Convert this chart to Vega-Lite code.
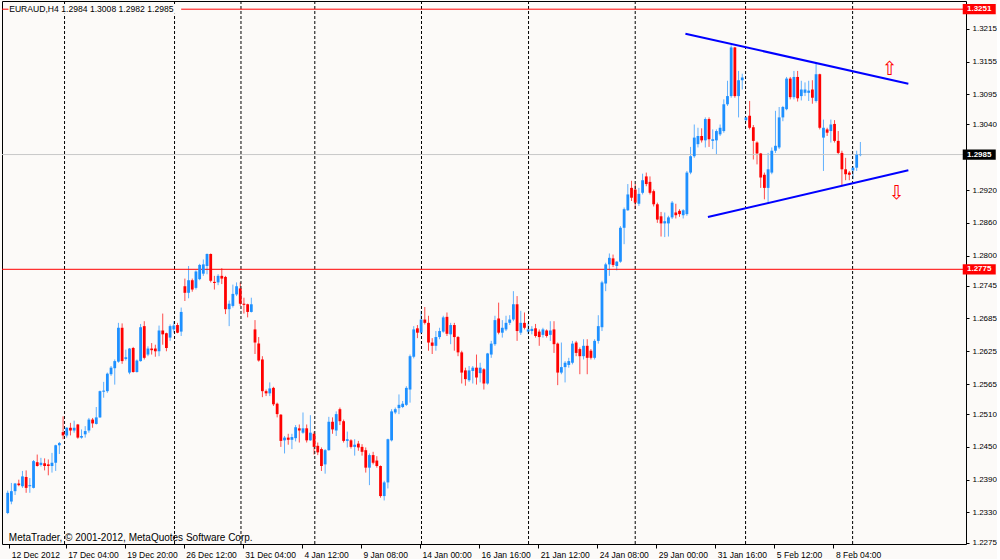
{
"$schema": "https://vega.github.io/schema/vega-lite/v6.json",
"width": 964,
"height": 543,
"padding": {"left": 1, "top": 0, "right": 0, "bottom": 0},
"background": "#FCFAF8",
"config": {
"view": {"stroke": "#000000", "strokeWidth": 1, "fill": "#FCFAF8"},
"font": "Liberation Sans",
"axis": {"grid": false, "domain": false, "tickColor": "#000000", "labelColor": "#000000", "labelFont": "Liberation Sans", "labelOverlap": false, "labelFlush": false, "labelBound": false},
"axisX": {"tickSize": 4, "labelPadding": 2, "labelFontSize": 8.5, "labelAlign": "left", "labelOffset": 2, "labelOverlap": false},
"axisY": {"tickSize": 3, "labelPadding": 3, "labelFontSize": 8, "labelOverlap": false}
},
"resolve": {"axis": {"x": "independent", "y": "independent"}},
"datasets": {
"bars": [
{"i":0,"o":1.2329,"h":1.2370,"l":1.2327,"c":1.2366},
{"i":1,"o":1.2350,"h":1.2384,"l":1.2345,"c":1.2369},
{"i":2,"o":1.2369,"h":1.2384,"l":1.2362,"c":1.2383},
{"i":3,"o":1.2383,"h":1.2390,"l":1.2378,"c":1.2380},
{"i":4,"o":1.2378,"h":1.2406,"l":1.2375,"c":1.2396},
{"i":5,"o":1.2395,"h":1.2407,"l":1.2366,"c":1.2375},
{"i":6,"o":1.2378,"h":1.2393,"l":1.2366,"c":1.2380},
{"i":7,"o":1.2375,"h":1.2426,"l":1.2374,"c":1.2424},
{"i":8,"o":1.2422,"h":1.2436,"l":1.2414,"c":1.2415},
{"i":9,"o":1.2417,"h":1.2430,"l":1.2414,"c":1.2421},
{"i":10,"o":1.2420,"h":1.2429,"l":1.2407,"c":1.2415},
{"i":11,"o":1.2418,"h":1.2427,"l":1.2398,"c":1.2415},
{"i":12,"o":1.2415,"h":1.2439,"l":1.2403,"c":1.2421},
{"i":13,"o":1.2421,"h":1.2454,"l":1.2406,"c":1.2453},
{"i":14,"o":1.2453,"h":1.2459,"l":1.2437,"c":1.2457},
{"i":15,"o":1.2477,"h":1.2506,"l":1.2464,"c":1.2471},
{"i":16,"o":1.2471,"h":1.2486,"l":1.2467,"c":1.2485},
{"i":17,"o":1.2485,"h":1.2494,"l":1.2471,"c":1.2480},
{"i":18,"o":1.2480,"h":1.2498,"l":1.2476,"c":1.2485},
{"i":19,"o":1.2491,"h":1.2492,"l":1.2465,"c":1.2467},
{"i":20,"o":1.2467,"h":1.2482,"l":1.2465,"c":1.2470},
{"i":21,"o":1.2473,"h":1.2488,"l":1.2467,"c":1.2479},
{"i":22,"o":1.2480,"h":1.2503,"l":1.2476,"c":1.2500},
{"i":23,"o":1.2500,"h":1.2503,"l":1.2485,"c":1.2493},
{"i":24,"o":1.2492,"h":1.2523,"l":1.2491,"c":1.2504},
{"i":25,"o":1.2504,"h":1.2553,"l":1.2503,"c":1.2552},
{"i":26,"o":1.2551,"h":1.2569,"l":1.2540,"c":1.2553},
{"i":27,"o":1.2552,"h":1.2586,"l":1.2549,"c":1.2584},
{"i":28,"o":1.2583,"h":1.2598,"l":1.2580,"c":1.2595},
{"i":29,"o":1.2594,"h":1.2610,"l":1.2564,"c":1.2607},
{"i":30,"o":1.2606,"h":1.2677,"l":1.2604,"c":1.2668},
{"i":31,"o":1.2668,"h":1.2676,"l":1.2602,"c":1.2607},
{"i":32,"o":1.2611,"h":1.2628,"l":1.2608,"c":1.2614},
{"i":33,"o":1.2586,"h":1.2631,"l":1.2583,"c":1.2630},
{"i":34,"o":1.2631,"h":1.2633,"l":1.2586,"c":1.2587},
{"i":35,"o":1.2587,"h":1.2610,"l":1.2586,"c":1.2608},
{"i":36,"o":1.2607,"h":1.2675,"l":1.2606,"c":1.2669},
{"i":37,"o":1.2671,"h":1.2680,"l":1.2610,"c":1.2613},
{"i":38,"o":1.2619,"h":1.2634,"l":1.2616,"c":1.2630},
{"i":39,"o":1.2630,"h":1.2640,"l":1.2619,"c":1.2627},
{"i":40,"o":1.2630,"h":1.2637,"l":1.2615,"c":1.2625},
{"i":41,"o":1.2625,"h":1.2672,"l":1.2616,"c":1.2663},
{"i":42,"o":1.2663,"h":1.2694,"l":1.2637,"c":1.2656},
{"i":43,"o":1.2658,"h":1.2659,"l":1.2625,"c":1.2631},
{"i":44,"o":1.2650,"h":1.2674,"l":1.2644,"c":1.2671},
{"i":45,"o":1.2665,"h":1.2680,"l":1.2659,"c":1.2672},
{"i":46,"o":1.2673,"h":1.2677,"l":1.2658,"c":1.2659},
{"i":47,"o":1.2661,"h":1.2705,"l":1.2653,"c":1.2697},
{"i":48,"o":1.2744,"h":1.2758,"l":1.2717,"c":1.2732},
{"i":49,"o":1.2732,"h":1.2781,"l":1.2722,"c":1.2755},
{"i":50,"o":1.2755,"h":1.2758,"l":1.2734,"c":1.2738},
{"i":51,"o":1.2741,"h":1.2773,"l":1.2738,"c":1.2771},
{"i":52,"o":1.2757,"h":1.2785,"l":1.2755,"c":1.2783},
{"i":53,"o":1.2767,"h":1.2793,"l":1.2763,"c":1.2784},
{"i":54,"o":1.2781,"h":1.2804,"l":1.2766,"c":1.2803},
{"i":55,"o":1.2803,"h":1.2804,"l":1.2751,"c":1.2754},
{"i":56,"o":1.2752,"h":1.2763,"l":1.2738,"c":1.2750},
{"i":57,"o":1.2751,"h":1.2766,"l":1.2746,"c":1.2763},
{"i":58,"o":1.2763,"h":1.2777,"l":1.2748,"c":1.2758},
{"i":59,"o":1.2761,"h":1.2763,"l":1.2693,"c":1.2702},
{"i":60,"o":1.2702,"h":1.2718,"l":1.2671,"c":1.2712},
{"i":61,"o":1.2708,"h":1.2747,"l":1.2705,"c":1.2730},
{"i":62,"o":1.2729,"h":1.2751,"l":1.2726,"c":1.2744},
{"i":63,"o":1.2740,"h":1.2751,"l":1.2708,"c":1.2712},
{"i":64,"o":1.2712,"h":1.2723,"l":1.2694,"c":1.2710},
{"i":65,"o":1.2711,"h":1.2712,"l":1.2687,"c":1.2697},
{"i":66,"o":1.2697,"h":1.2723,"l":1.2696,"c":1.2711},
{"i":67,"o":1.2665,"h":1.2682,"l":1.2620,"c":1.2641},
{"i":68,"o":1.2639,"h":1.2651,"l":1.2606,"c":1.2608},
{"i":69,"o":1.2610,"h":1.2616,"l":1.2541,"c":1.2552},
{"i":70,"o":1.2552,"h":1.2555,"l":1.2543,"c":1.2548},
{"i":71,"o":1.2548,"h":1.2568,"l":1.2543,"c":1.2557},
{"i":72,"o":1.2558,"h":1.2560,"l":1.2525,"c":1.2528},
{"i":73,"o":1.2529,"h":1.2531,"l":1.2504,"c":1.2510},
{"i":74,"o":1.2509,"h":1.2510,"l":1.2450,"c":1.2461},
{"i":75,"o":1.2462,"h":1.2470,"l":1.2438,"c":1.2467},
{"i":76,"o":1.2467,"h":1.2474,"l":1.2454,"c":1.2463},
{"i":77,"o":1.2463,"h":1.2474,"l":1.2446,"c":1.2468},
{"i":78,"o":1.2466,"h":1.2490,"l":1.2460,"c":1.2486},
{"i":79,"o":1.2484,"h":1.2491,"l":1.2458,"c":1.2480},
{"i":80,"o":1.2476,"h":1.2513,"l":1.2474,"c":1.2484},
{"i":81,"o":1.2484,"h":1.2491,"l":1.2458,"c":1.2462},
{"i":82,"o":1.2462,"h":1.2508,"l":1.2461,"c":1.2476},
{"i":83,"o":1.2474,"h":1.2478,"l":1.2436,"c":1.2450},
{"i":84,"o":1.2452,"h":1.2458,"l":1.2435,"c":1.2440},
{"i":85,"o":1.2446,"h":1.2449,"l":1.2406,"c":1.2415},
{"i":86,"o":1.2418,"h":1.2446,"l":1.2401,"c":1.2444},
{"i":87,"o":1.2444,"h":1.2505,"l":1.2443,"c":1.2496},
{"i":88,"o":1.2496,"h":1.2504,"l":1.2474,"c":1.2482},
{"i":89,"o":1.2480,"h":1.2515,"l":1.2470,"c":1.2510},
{"i":90,"o":1.2519,"h":1.2522,"l":1.2490,"c":1.2497},
{"i":91,"o":1.2497,"h":1.2500,"l":1.2458,"c":1.2461},
{"i":92,"o":1.2461,"h":1.2478,"l":1.2449,"c":1.2464},
{"i":93,"o":1.2462,"h":1.2464,"l":1.2447,"c":1.2450},
{"i":94,"o":1.2450,"h":1.2464,"l":1.2434,"c":1.2454},
{"i":95,"o":1.2456,"h":1.2461,"l":1.2443,"c":1.2449},
{"i":96,"o":1.2450,"h":1.2455,"l":1.2434,"c":1.2441},
{"i":97,"o":1.2444,"h":1.2449,"l":1.2403,"c":1.2412},
{"i":98,"o":1.2412,"h":1.2438,"l":1.2380,"c":1.2435},
{"i":99,"o":1.2435,"h":1.2441,"l":1.2418,"c":1.2421},
{"i":100,"o":1.2425,"h":1.2433,"l":1.2412,"c":1.2415},
{"i":101,"o":1.2415,"h":1.2416,"l":1.2357,"c":1.2360},
{"i":102,"o":1.2360,"h":1.2388,"l":1.2352,"c":1.2385},
{"i":103,"o":1.2385,"h":1.2465,"l":1.2374,"c":1.2464},
{"i":104,"o":1.2462,"h":1.2519,"l":1.2460,"c":1.2515},
{"i":105,"o":1.2513,"h":1.2522,"l":1.2510,"c":1.2519},
{"i":106,"o":1.2521,"h":1.2546,"l":1.2510,"c":1.2527},
{"i":107,"o":1.2523,"h":1.2534,"l":1.2521,"c":1.2529},
{"i":108,"o":1.2527,"h":1.2561,"l":1.2525,"c":1.2558},
{"i":109,"o":1.2555,"h":1.2619,"l":1.2531,"c":1.2616},
{"i":110,"o":1.2615,"h":1.2671,"l":1.2612,"c":1.2665},
{"i":111,"o":1.2667,"h":1.2673,"l":1.2649,"c":1.2659},
{"i":112,"o":1.2659,"h":1.2699,"l":1.2656,"c":1.2683},
{"i":113,"o":1.2683,"h":1.2706,"l":1.2674,"c":1.2677},
{"i":114,"o":1.2677,"h":1.2690,"l":1.2626,"c":1.2641},
{"i":115,"o":1.2641,"h":1.2649,"l":1.2620,"c":1.2635},
{"i":116,"o":1.2635,"h":1.2662,"l":1.2626,"c":1.2651},
{"i":117,"o":1.2651,"h":1.2668,"l":1.2647,"c":1.2662},
{"i":118,"o":1.2661,"h":1.2690,"l":1.2659,"c":1.2687},
{"i":119,"o":1.2688,"h":1.2696,"l":1.2653,"c":1.2657},
{"i":120,"o":1.2656,"h":1.2677,"l":1.2638,"c":1.2673},
{"i":121,"o":1.2673,"h":1.2677,"l":1.2626,"c":1.2651},
{"i":122,"o":1.2651,"h":1.2653,"l":1.2616,"c":1.2623},
{"i":123,"o":1.2623,"h":1.2626,"l":1.2566,"c":1.2586},
{"i":124,"o":1.2590,"h":1.2595,"l":1.2562,"c":1.2574},
{"i":125,"o":1.2572,"h":1.2598,"l":1.2569,"c":1.2590},
{"i":126,"o":1.2589,"h":1.2598,"l":1.2566,"c":1.2595},
{"i":127,"o":1.2595,"h":1.2619,"l":1.2564,"c":1.2577},
{"i":128,"o":1.2585,"h":1.2604,"l":1.2568,"c":1.2595},
{"i":129,"o":1.2592,"h":1.2594,"l":1.2555,"c":1.2566},
{"i":130,"o":1.2566,"h":1.2622,"l":1.2564,"c":1.2621},
{"i":131,"o":1.2619,"h":1.2644,"l":1.2613,"c":1.2639},
{"i":132,"o":1.2638,"h":1.2690,"l":1.2635,"c":1.2682},
{"i":133,"o":1.2685,"h":1.2714,"l":1.2656,"c":1.2659},
{"i":134,"o":1.2659,"h":1.2682,"l":1.2650,"c":1.2668},
{"i":135,"o":1.2665,"h":1.2690,"l":1.2662,"c":1.2677},
{"i":136,"o":1.2677,"h":1.2691,"l":1.2673,"c":1.2683},
{"i":137,"o":1.2683,"h":1.2735,"l":1.2680,"c":1.2711},
{"i":138,"o":1.2711,"h":1.2726,"l":1.2644,"c":1.2662},
{"i":139,"o":1.2659,"h":1.2699,"l":1.2655,"c":1.2677},
{"i":140,"o":1.2677,"h":1.2696,"l":1.2665,"c":1.2668},
{"i":141,"o":1.2661,"h":1.2677,"l":1.2656,"c":1.2665},
{"i":142,"o":1.2662,"h":1.2671,"l":1.2656,"c":1.2666},
{"i":143,"o":1.2667,"h":1.2675,"l":1.2650,"c":1.2653},
{"i":144,"o":1.2661,"h":1.2665,"l":1.2635,"c":1.2651},
{"i":145,"o":1.2655,"h":1.2668,"l":1.2650,"c":1.2665},
{"i":146,"o":1.2663,"h":1.2665,"l":1.2650,"c":1.2653},
{"i":147,"o":1.2655,"h":1.2680,"l":1.2644,"c":1.2663},
{"i":148,"o":1.2665,"h":1.2680,"l":1.2622,"c":1.2638},
{"i":149,"o":1.2639,"h":1.2641,"l":1.2563,"c":1.2586},
{"i":150,"o":1.2586,"h":1.2641,"l":1.2583,"c":1.2596},
{"i":151,"o":1.2596,"h":1.2607,"l":1.2568,"c":1.2604},
{"i":152,"o":1.2600,"h":1.2613,"l":1.2595,"c":1.2607},
{"i":153,"o":1.2604,"h":1.2644,"l":1.2601,"c":1.2639},
{"i":154,"o":1.2641,"h":1.2644,"l":1.2616,"c":1.2622},
{"i":155,"o":1.2629,"h":1.2632,"l":1.2583,"c":1.2616},
{"i":156,"o":1.2616,"h":1.2647,"l":1.2610,"c":1.2635},
{"i":157,"o":1.2635,"h":1.2647,"l":1.2583,"c":1.2613},
{"i":158,"o":1.2626,"h":1.2629,"l":1.2610,"c":1.2613},
{"i":159,"o":1.2613,"h":1.2647,"l":1.2610,"c":1.2644},
{"i":160,"o":1.2644,"h":1.2691,"l":1.2639,"c":1.2671},
{"i":161,"o":1.2669,"h":1.2754,"l":1.2662,"c":1.2751},
{"i":162,"o":1.2749,"h":1.2787,"l":1.2735,"c":1.2784},
{"i":163,"o":1.2784,"h":1.2804,"l":1.2763,"c":1.2796},
{"i":164,"o":1.2795,"h":1.2802,"l":1.2779,"c":1.2783},
{"i":165,"o":1.2781,"h":1.2790,"l":1.2773,"c":1.2789},
{"i":166,"o":1.2789,"h":1.2854,"l":1.2787,"c":1.2851},
{"i":167,"o":1.2851,"h":1.2888,"l":1.2821,"c":1.2885},
{"i":168,"o":1.2883,"h":1.2931,"l":1.2882,"c":1.2912},
{"i":169,"o":1.2924,"h":1.2937,"l":1.2900,"c":1.2906},
{"i":170,"o":1.2921,"h":1.2931,"l":1.2885,"c":1.2897},
{"i":171,"o":1.2895,"h":1.2924,"l":1.2891,"c":1.2913},
{"i":172,"o":1.2915,"h":1.2950,"l":1.2912,"c":1.2938},
{"i":173,"o":1.2945,"h":1.2952,"l":1.2927,"c":1.2931},
{"i":174,"o":1.2935,"h":1.2945,"l":1.2912,"c":1.2915},
{"i":175,"o":1.2918,"h":1.2921,"l":1.2890,"c":1.2894},
{"i":176,"o":1.2894,"h":1.2897,"l":1.2860,"c":1.2866},
{"i":177,"o":1.2872,"h":1.2880,"l":1.2835,"c":1.2859},
{"i":178,"o":1.2859,"h":1.2879,"l":1.2834,"c":1.2863},
{"i":179,"o":1.2859,"h":1.2873,"l":1.2835,"c":1.2870},
{"i":180,"o":1.2870,"h":1.2900,"l":1.2867,"c":1.2897},
{"i":181,"o":1.2879,"h":1.2895,"l":1.2868,"c":1.2874},
{"i":182,"o":1.2882,"h":1.2885,"l":1.2871,"c":1.2876},
{"i":183,"o":1.2874,"h":1.2885,"l":1.2868,"c":1.2883},
{"i":184,"o":1.2876,"h":1.2955,"l":1.2873,"c":1.2952},
{"i":185,"o":1.2952,"h":1.2999,"l":1.2949,"c":1.2982},
{"i":186,"o":1.2982,"h":1.3040,"l":1.2979,"c":1.3016},
{"i":187,"o":1.3004,"h":1.3034,"l":1.2998,"c":1.3019},
{"i":188,"o":1.3019,"h":1.3033,"l":1.3007,"c":1.3011},
{"i":189,"o":1.3011,"h":1.3053,"l":1.2998,"c":1.3050},
{"i":190,"o":1.3050,"h":1.3053,"l":1.2999,"c":1.3013},
{"i":191,"o":1.3010,"h":1.3031,"l":1.2995,"c":1.3013},
{"i":192,"o":1.3011,"h":1.3031,"l":1.2985,"c":1.3028},
{"i":193,"o":1.3022,"h":1.3040,"l":1.3019,"c":1.3034},
{"i":194,"o":1.3028,"h":1.3086,"l":1.3025,"c":1.3077},
{"i":195,"o":1.3077,"h":1.3120,"l":1.3074,"c":1.3092},
{"i":196,"o":1.3092,"h":1.3185,"l":1.3089,"c":1.3181},
{"i":197,"o":1.3181,"h":1.3182,"l":1.3089,"c":1.3092},
{"i":198,"o":1.3092,"h":1.3138,"l":1.3053,"c":1.3121},
{"i":199,"o":1.3121,"h":1.3133,"l":1.3104,"c":1.3126},
{"i":200,"o":1.3048,"h":1.3054,"l":1.3046,"c":1.3053},
{"i":201,"o":1.3056,"h":1.3083,"l":1.3031,"c":1.3034},
{"i":202,"o":1.3035,"h":1.3039,"l":1.2976,"c":1.3010},
{"i":203,"o":1.3007,"h":1.3009,"l":1.2967,"c":1.2987},
{"i":204,"o":1.2987,"h":1.2988,"l":1.2924,"c":1.2943},
{"i":205,"o":1.2948,"h":1.2952,"l":1.2903,"c":1.2924},
{"i":206,"o":1.2924,"h":1.2988,"l":1.2897,"c":1.2958},
{"i":207,"o":1.2952,"h":1.2998,"l":1.2949,"c":1.2992},
{"i":208,"o":1.2992,"h":1.3065,"l":1.2988,"c":1.3001},
{"i":209,"o":1.2998,"h":1.3072,"l":1.2995,"c":1.3053},
{"i":210,"o":1.3053,"h":1.3074,"l":1.3046,"c":1.3072},
{"i":211,"o":1.3068,"h":1.3127,"l":1.3066,"c":1.3124},
{"i":212,"o":1.3124,"h":1.3127,"l":1.3086,"c":1.3090},
{"i":213,"o":1.3090,"h":1.3138,"l":1.3086,"c":1.3127},
{"i":214,"o":1.3127,"h":1.3138,"l":1.3082,"c":1.3088},
{"i":215,"o":1.3092,"h":1.3120,"l":1.3084,"c":1.3104},
{"i":216,"o":1.3098,"h":1.3117,"l":1.3092,"c":1.3104},
{"i":217,"o":1.3098,"h":1.3120,"l":1.3083,"c":1.3102},
{"i":218,"o":1.3104,"h":1.3121,"l":1.3078,"c":1.3089},
{"i":219,"o":1.3083,"h":1.3153,"l":1.3080,"c":1.3132},
{"i":220,"o":1.3132,"h":1.3133,"l":1.3031,"c":1.3034},
{"i":221,"o":1.3016,"h":1.3049,"l":1.2955,"c":1.3034},
{"i":222,"o":1.3031,"h":1.3034,"l":1.3019,"c":1.3025},
{"i":223,"o":1.3028,"h":1.3049,"l":1.3007,"c":1.3040},
{"i":224,"o":1.3041,"h":1.3048,"l":1.3007,"c":1.3010},
{"i":225,"o":1.3010,"h":1.3028,"l":1.2985,"c":1.2988},
{"i":226,"o":1.2988,"h":1.2992,"l":1.2927,"c":1.2958},
{"i":227,"o":1.2958,"h":1.2979,"l":1.2938,"c":1.2949},
{"i":228,"o":1.2952,"h":1.2955,"l":1.2938,"c":1.2948},
{"i":229,"o":1.2956,"h":1.2964,"l":1.2940,"c":1.2961},
{"i":230,"o":1.2961,"h":1.2992,"l":1.2955,"c":1.2985},
{"i":231,"o":1.2984,"h":1.3008,"l":1.2982,"c":1.2985}
],
"seps": [{"s":15.4},{"s":45.2},{"s":63.2},{"s":83.2},{"s":112.1},{"s":141.1},{"s":170},{"s":199.9},{"s":228.9}],
"levels": [{"p":1.3251,"kind":"level"},{"p":1.2775,"kind":"level"},{"p":1.2985,"kind":"bid"}],
"trend": [
{"side":"upper","i":183.6,"p":1.32062},
{"side":"upper","i":244.0,"p":1.31145},
{"side":"lower","i":189.7,"p":1.28707},
{"side":"lower","i":244.0,"p":1.29562}
]
},
"layer": [
{
"data": {"name": "bars"},
"mark": {"type": "rule", "strokeWidth": 1, "opacity": 0.7},
"encoding": {
"x": {"field": "i", "type": "quantitative", "title": null, "scale": {"domain": [-0.188, 258.26], "nice": false, "zero": false},
"axis": {"orient": "bottom", "values": [0.4, 15.7, 31.7, 47.7, 63.7, 79.7, 95.7, 111.7, 127.7, 143.7, 159.7, 175.7, 191.7, 207.7, 223.7],
"labelOverlap": false, "labelBound": false, "labelFlush": false,
"labelExpr": "['12 Dec 2012','17 Dec 04:00','19 Dec 20:00','26 Dec 12:00','31 Dec 04:00','4 Jan 12:00','9 Jan 08:00','14 Jan 00:00','16 Jan 16:00','21 Jan 12:00','24 Jan 08:00','29 Jan 00:00','31 Jan 16:00','5 Feb 12:00','8 Feb 04:00'][round((datum.value + 0.3) / 16)]"}},
"y": {"field": "l", "type": "quantitative", "title": null, "scale": {"domain": [1.22723, 1.3266], "nice": false, "zero": false},
"axis": {"orient": "right", "values": [1.3215, 1.3155, 1.3095, 1.304, 1.292, 1.286, 1.28, 1.2745, 1.2685, 1.2625, 1.2565, 1.251, 1.245, 1.239, 1.233, 1.2275], "format": ".4f",
"labelOverlap": false, "labelBound": false, "labelFlush": false}},
"y2": {"field": "h"},
"color": {"condition": {"test": "datum.c >= datum.o", "value": "#1E90FF"}, "value": "#FF0000"}
}
},
{
"data": {"name": "seps"},
"mark": {"type": "rule", "color": "#000000", "strokeWidth": 1, "strokeDash": [3, 2]},
"encoding": {
"x": {"field": "s", "type": "quantitative", "title": null, "axis": null}
}
},
{
"data": {"name": "levels"},
"mark": {"type": "rule", "strokeWidth": 1},
"encoding": {
"y": {"field": "p", "type": "quantitative", "title": null, "axis": null},
"color": {"condition": {"test": "datum.kind === 'bid'", "value": "#C8C8C8"}, "value": "#FF0000"}
}
},
{
"data": {"name": "bars"},
"mark": {"type": "bar", "size": 2.8},
"encoding": {
"x": {"field": "i", "type": "quantitative", "title": null, "axis": null},
"y": {"field": "o", "type": "quantitative", "title": null, "axis": null},
"y2": {"field": "c"},
"color": {"condition": {"test": "datum.c >= datum.o", "value": "#1E90FF"}, "value": "#FF0000"}
}
},
{
"data": {"name": "trend"},
"mark": {"type": "line", "color": "#0000FF", "strokeWidth": 2},
"encoding": {
"x": {"field": "i", "type": "quantitative", "title": null, "axis": null},
"y": {"field": "p", "type": "quantitative", "title": null, "axis": null},
"detail": {"field": "side"}
}
},
{
"data": {"values": [{"sym": "⇧"}]},
"mark": {"type": "text", "font": "DejaVu Sans", "fontSize": 19, "color": "#FF0000", "align": "center", "baseline": "middle"},
"encoding": {
"x": {"datum": 238.9, "type": "quantitative", "title": null, "axis": null},
"y": {"datum": 1.31416, "type": "quantitative", "title": null, "axis": null},
"text": {"field": "sym"}
}
},
{
"data": {"values": [{"sym": "⇩"}]},
"mark": {"type": "text", "font": "DejaVu Sans", "fontSize": 19, "color": "#FF0000", "align": "center", "baseline": "middle"},
"encoding": {
"x": {"datum": 240.8, "type": "quantitative", "title": null, "axis": null},
"y": {"datum": 1.29146, "type": "quantitative", "title": null, "axis": null},
"text": {"field": "sym"}
}
},
{
"data": {"values": [{"label": "EURAUD,H4  1.2984 1.3008 1.2982 1.2985"}]},
"mark": {"type": "rect", "color": "#FCFAF8"},
"encoding": {
"x": {"datum": 0.2, "type": "quantitative", "title": null, "axis": null},
"x2": {"datum": 47.0},
"y": {"datum": 1.32595, "type": "quantitative", "title": null, "axis": null},
"y2": {"datum": 1.32425}
}
},
{
"data": {"values": [{"label": "EURAUD,H4  1.2984 1.3008 1.2982 1.2985"}]},
"mark": {"type": "text", "font": "Liberation Sans", "fontSize": 8.6, "color": "#000000", "align": "left", "baseline": "middle"},
"encoding": {
"x": {"datum": 0.4, "type": "quantitative", "title": null, "axis": null},
"y": {"datum": 1.3251, "type": "quantitative", "title": null, "axis": null},
"text": {"field": "label"}
}
},
{
"data": {"values": [{"label": "MetaTrader, © 2001-2012, MetaQuotes Software Corp."}]},
"mark": {"type": "text", "font": "Liberation Sans", "fontSize": 10, "color": "#000000", "align": "left", "baseline": "middle"},
"encoding": {
"x": {"datum": 0.3, "type": "quantitative", "title": null, "axis": null},
"y": {"datum": 1.2284, "type": "quantitative", "title": null, "axis": null},
"text": {"field": "label"}
}
},
{
"data": {"name": "levels"},
"mark": {"type": "point", "filled": true, "opacity": 1, "shape": "M-1,-0.31H1V0.31H-1Z", "size": 1089, "strokeWidth": 0},
"encoding": {
"x": {"datum": 263.2, "type": "quantitative", "title": null, "axis": null},
"y": {"field": "p", "type": "quantitative", "title": null, "axis": null},
"color": {"condition": {"test": "datum.kind === 'bid'", "value": "#000000"}, "value": "#FF0000"}
}
},
{
"data": {"name": "levels"},
"mark": {"type": "text", "font": "Liberation Sans", "fontSize": 8, "fontWeight": "bold", "color": "#FFFFFF", "align": "center", "baseline": "middle"},
"encoding": {
"x": {"datum": 263.2, "type": "quantitative", "title": null, "axis": null},
"y": {"field": "p", "type": "quantitative", "title": null, "axis": null},
"text": {"field": "p", "type": "quantitative", "format": ".4f"}
}
}
]
}
